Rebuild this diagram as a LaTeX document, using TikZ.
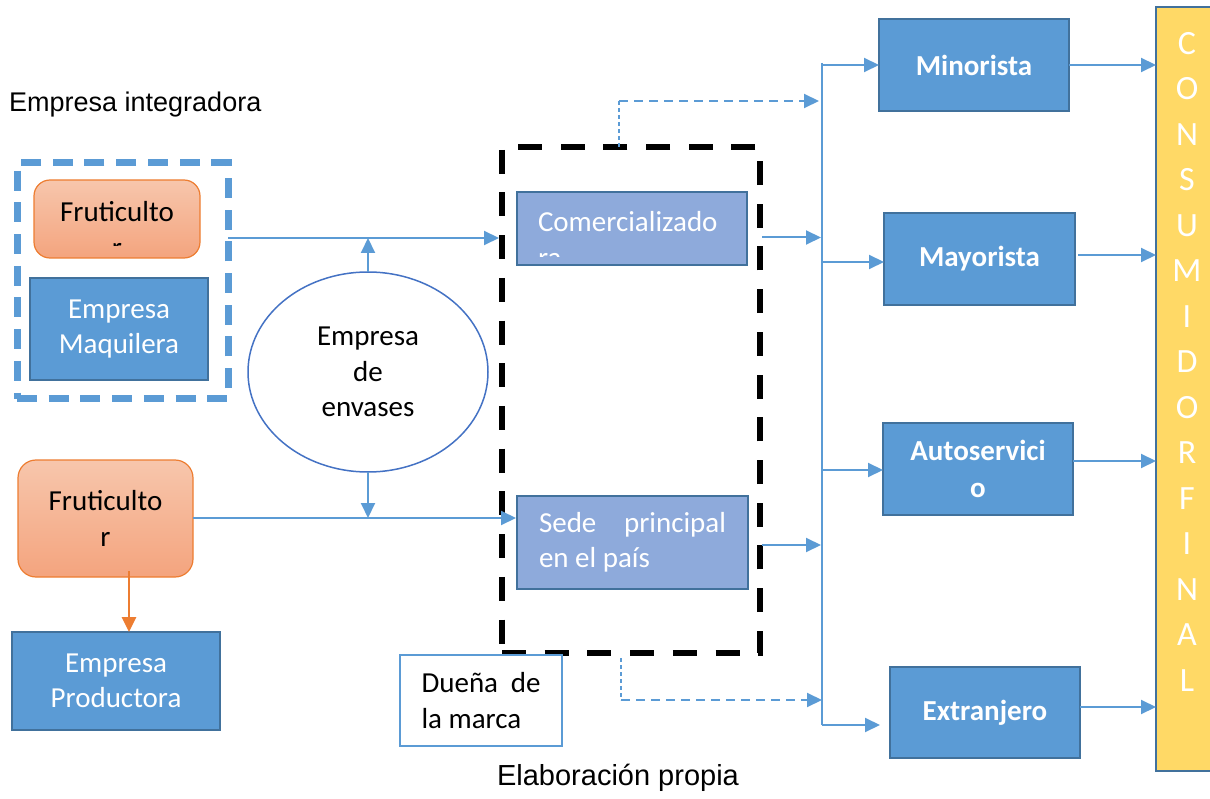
\documentclass[tikz,border=0pt]{standalone}
\usepackage{fontspec}
\setmainfont{Carlito}
\newfontfamily\arialf{Liberation Sans}
\usetikzlibrary{arrows.meta,calc,shapes.geometric}
\definecolor{bfill}{HTML}{5B9BD5}
\definecolor{bdraw}{HTML}{41719C}
\definecolor{lfill}{HTML}{8EAADB}
\definecolor{otop}{HTML}{F7C6AC}
\definecolor{obot}{HTML}{F4A47E}
\definecolor{odraw}{HTML}{ED7D31}
\definecolor{edraw}{HTML}{4472C4}
\definecolor{yfill}{HTML}{FFD966}
\definecolor{lblue}{HTML}{5B9BD5}
\begin{document}
\begin{tikzpicture}[x=1pt,y=-1pt,
  base/.style={font=\fontsize{29}{35.5}\selectfont, inner sep=0pt, outer sep=0pt},
  bluebox/.style={base, draw=bdraw, line width=2pt, fill=bfill, text=white, align=center},
  lightbox/.style={base, draw=bdraw, line width=2pt, fill=lfill, text=white},
  chanbox/.style={bluebox, font=\fontsize{29}{37}\selectfont\bfseries},
  frubox/.style={base, draw=odraw, line width=1.2pt, rounded corners=16pt, top color=otop, bottom color=obot, align=center},
  arr/.style={draw=lblue, line width=2pt, -{Triangle[length=15pt,width=14pt]}},
  oarr/.style={draw=odraw, line width=2.8pt, -{Triangle[length=15pt,width=14pt]}},
  busline/.style={draw=lblue, line width=1.5pt},
  dashv/.style={draw=lblue, line width=1.3pt, dash pattern=on 4pt off 3pt},
  dasharr/.style={draw=lblue, line width=2pt, dash pattern=on 9pt off 6pt, -{Triangle[length=15pt,width=14pt]}},
  arialtxt/.style={font=\arialf\fontsize{27}{32}\selectfont, inner sep=0pt}
]
\path[use as bounding box] (0,0) rectangle (1210,799);
\clip (0,0) rectangle (1210,799);

% left group
\node[draw=lblue, line width=7pt, dash pattern=on 20pt off 11.7pt, minimum width=211, minimum height=236, inner sep=0pt, outer sep=0pt] (grp) at (122.5,281) {};
\node[frubox, minimum width=166, minimum height=78] (fruA) at (117,219) {};
\begin{scope}
  \clip (fruA.north west) rectangle ($(fruA.south east)+(0,-12)$);
  \node[base, anchor=base] (fruAtxt) at (117,221.7) {Fruticulto};
  \node[base, anchor=base] (fruAtxtb) at (117,257.2) {r};
\end{scope}
\node[bluebox, minimum width=178, minimum height=102] (maq) at (119,329) {Empresa\\Maquilera};

\node[arialtxt, anchor=west] (title) at (9,105) {Empresa integradora};

\node[base, ellipse, draw=edraw, line width=1.5pt, fill=white, minimum width=240, minimum height=200, align=center] (env) at (368,372) {Empresa\\de\\envases};

\node[frubox, minimum width=175, minimum height=117, rounded corners=18pt] (fruB) at (105.5,518.5) {Fruticulto\\r};
\node[bluebox, minimum width=208, minimum height=98] (prod) at (116,681) {Empresa\\Productora};

% central dashed box
\node[draw=black, line width=6pt, dash pattern=on 24pt off 18.7pt, minimum width=258, minimum height=506, inner sep=0pt, outer sep=0pt] (marca) at (631,400) {};
\node[lightbox, minimum width=230, minimum height=73] (com) at (632,228.5) {};
\begin{scope}
  \clip (com.north west) rectangle ($(com.south east)+(0,-8)$);
  \node[base, anchor=base west, text=white] (comtxt) at (538,232) {Comercializado};
  \node[base, anchor=base west, text=white] (comtxtb) at (538,267.5) {ra};
\end{scope}
\node[lightbox, minimum width=231, minimum height=93, text width=187, align=flush left] (sede) at (632.5,542.5) {Sede\hfill principal\\en el país};
\node[base, draw=lblue, line width=2pt, fill=white, minimum width=162, minimum height=91, text width=119, align=flush left] (duena) at (481,700.5) {Dueña\hfill de\\la marca};

\node[arialtxt, font=\arialf\fontsize{29}{34}\selectfont] (source) at (618,778) {Elaboración propia};

% channels
\node[chanbox, minimum width=190, minimum height=92] (min) at (974,65) {Minorista};
\node[chanbox, minimum width=191, minimum height=92] (may) at (979.5,259) {Mayorista};
\node[chanbox, minimum width=190, minimum height=92] (auto) at (978,469) {Autoservici\\o};
\node[chanbox, minimum width=190, minimum height=91] (ext) at (985,712.5) {Extranjero};

\node[base, draw=bdraw, line width=2pt, fill=yfill, minimum width=90, minimum height=764, anchor=north west] (cons) at (1156,7) {};
\node[base, font=\fontsize{34}{45.5}\selectfont, text=white, align=center] (constxt) at (1187,361.5) {C\\O\\N\\S\\U\\M\\I\\D\\O\\R\\F\\I\\N\\A\\L};

% coordinates
\coordinate (y1) at (0,238);
\coordinate (y2) at (0,518);
\coordinate (y0) at (0,101);
\coordinate (y3) at (0,237.5);
\coordinate (y4) at (0,545);
\coordinate (y5) at (0,700);
\coordinate (ymay) at (0,262);
\coordinate (yauto) at (0,470);
\coordinate (ymayo) at (0,255);
\coordinate (yautoo) at (0,461);
\coordinate (yexto) at (0,707);
\coordinate (bustop) at (822,63);
\coordinate (busbot) at (822,725);
\coordinate (d1) at ($(marca.north)+(-12,0)$);
\coordinate (d2) at ($(marca.south)+(-10,5)$);

% connectors left
\draw[arr] (grp.east |- y1) -- ($(marca.west |- y1)+(-3,0)$);
\draw[arr] (env.north) -- (env.north |- y1);
\draw[arr] (env.south) -- (env.south |- y2);
\draw[arr] (fruB.east |- y2) -- ($(sede.west |- y2)+(-1,0)$);
\draw[oarr] ($(fruB.south)+(23.5,-6)$) -- ($(prod.north)+(13,0)$);

% dashed
\draw[dashv] (d1) -- (d1 |- y0);
\draw[dasharr] (d1 |- y0) -- ($(bustop |- y0)+(-3,0)$);
\draw[dashv] (d2) -- (d2 |- y5);
\draw[dasharr] (d2 |- y5) -- ($(bustop |- y5)+(0,0)$);

% to bus
\draw[arr] ($(com.east |- y3)+(15,0)$) -- ($(bustop |- y3)+(-1,0)$);
\draw[arr] ($(sede.east |- y4)+(14,0)$) -- ($(bustop |- y4)+(-1,0)$);
\draw[busline] (bustop) -- (busbot);

% bus to channels
\draw[arr] (bustop |- min.west) -- (min.west);
\draw[arr] (bustop |- ymay) -- (may.west |- ymay);
\draw[arr] (bustop |- yauto) -- (auto.west |- yauto);
\draw[arr] (busbot) -- ($(ext.west |- busbot)+(-10,0)$);

% channels to consumer
\draw[arr] (min.east) -- (cons.west |- min.east);
\draw[arr] ($(may.east |- ymayo)+(3,0)$) -- (cons.west |- ymayo);
\draw[arr] (auto.east |- yautoo) -- (cons.west |- yautoo);
\draw[arr] (ext.east |- yexto) -- (cons.west |- yexto);
\end{tikzpicture}
\end{document}
